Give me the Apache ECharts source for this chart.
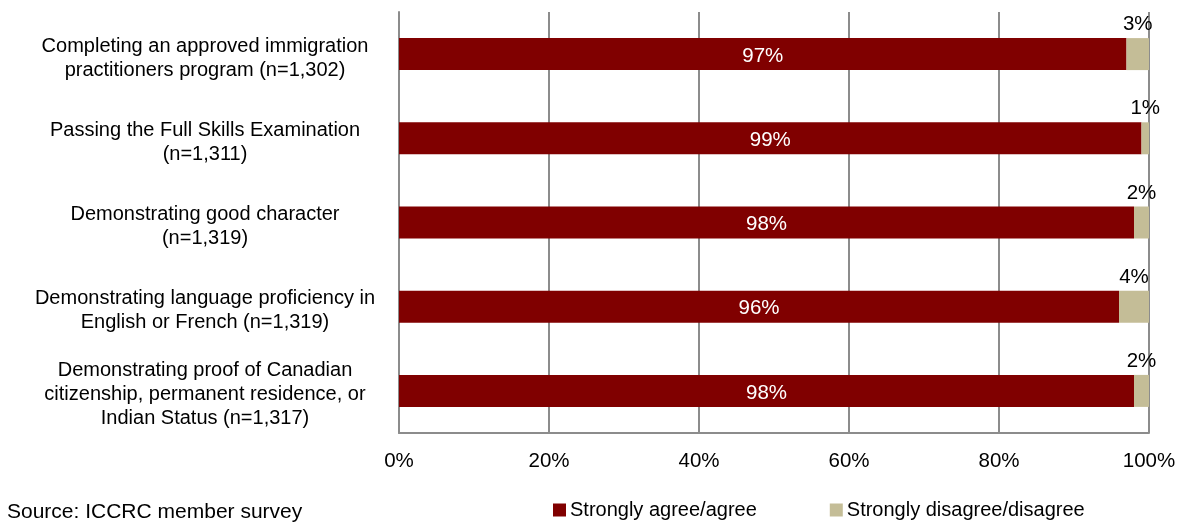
<!DOCTYPE html>
<html>
<head>
<meta charset="utf-8">
<style>
  html, body { margin: 0; padding: 0; background: #fff; }
  #chart { width: 1185px; height: 523px; }
</style>
<script src="https://cdn.jsdelivr.net/npm/echarts@6/dist/echarts.min.js"></script>
</head>
<body>
<div id="chart"></div>
<script>
// Requirement categories (top to bottom)
const categories = [
  'Completing an approved immigration\npractitioners program (n=1,302)',
  'Passing the Full Skills Examination\n(n=1,311)',
  'Demonstrating good character\n(n=1,319)',
  'Demonstrating language proficiency in\nEnglish or French (n=1,319)',
  'Demonstrating proof of Canadian\ncitizenship, permanent residence, or\nIndian Status (n=1,317)'
];
// Share of respondents (%)
const agreeValues = [97, 99, 98, 96, 98];
const disagreeValues = [3, 1, 2, 4, 2];
const seriesNames = ['Strongly agree/agree', 'Strongly disagree/disagree'];
const sourceNote = 'Source: ICCRC member survey';

const FONT = '"Liberation Sans", Arial, sans-serif';
const GRID_GRAY = '#8c8c8c';

const chart = echarts.init(document.getElementById('chart'));
chart.setOption({
  animation: false,
  textStyle: { fontFamily: FONT },
  grid: { left: 399, right: 36, top: 12, bottom: 90, containLabel: false },
  legend: {
    data: seriesNames,
    left: 548,
    top: 495,
    icon: 'rect',
    itemWidth: 13,
    itemHeight: 13,
    itemGap: 73,
    textStyle: { fontFamily: FONT, fontSize: 20, color: '#000', padding: [0, 0, 0, -1] }
  },
  graphic: [{
    type: 'text',
    left: 7,
    top: 502,
    style: { text: sourceNote, font: '21px ' + FONT, fill: '#000' }
  }],
  xAxis: {
    type: 'value',
    min: 0,
    max: 100,
    interval: 20,
    axisLine: { show: true, lineStyle: { color: GRID_GRAY, width: 2 } },
    axisTick: { show: false },
    splitLine: { show: true, lineStyle: { color: GRID_GRAY, width: 2 } },
    axisLabel: {
      formatter: '{value}%',
      fontSize: 20.5,
      color: '#000',
      margin: 18,
      fontFamily: FONT
    }
  },
  yAxis: {
    type: 'category',
    data: categories,
    inverse: true,
    axisLine: { show: true, lineStyle: { color: GRID_GRAY, width: 2 } },
    axisTick: { show: false },
    axisLabel: {
      align: 'center',
      margin: 194,
      color: '#000',
      fontFamily: FONT,
      // a thin spacer line on top nudges each label block slightly downward
      formatter: (v) => '{s| }\n' + v.split('\n').map((l) => '{t|' + l + '}').join('\n'),
      rich: {
        s: { fontSize: 1, lineHeight: 8 },
        t: { fontSize: 20, lineHeight: 24, color: '#000', fontFamily: FONT, align: 'center' }
      }
    }
  },
  series: [
    {
      name: seriesNames[0],
      type: 'bar',
      stack: 'total',
      barWidth: 32,
      data: agreeValues,
      itemStyle: { color: '#800000' },
      label: {
        show: true,
        position: 'inside',
        offset: [0, 2],
        formatter: '{c}%',
        color: '#fff',
        fontSize: 20.5,
        fontFamily: FONT
      }
    },
    {
      name: seriesNames[1],
      type: 'bar',
      stack: 'total',
      barWidth: 32,
      data: disagreeValues,
      itemStyle: { color: '#c4bd97' },
      label: {
        show: true,
        position: 'top',
        distance: 3,
        formatter: '{c}%',
        color: '#000',
        fontSize: 20.5,
        fontFamily: FONT
      }
    }
  ]
});
</script>
</body>
</html>
